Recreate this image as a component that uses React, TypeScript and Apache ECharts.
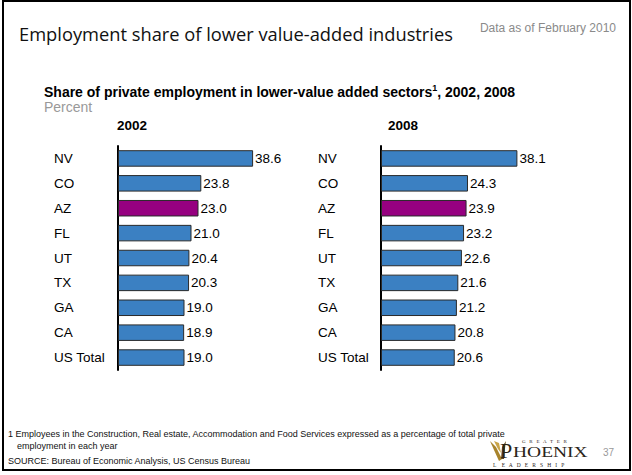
import React, { useEffect, useRef } from 'react';
import * as echarts from 'echarts';

const categories = ['NV', 'CO', 'AZ', 'FL', 'UT', 'TX', 'GA', 'CA', 'US Total'];
const values2002 = [38.6, 23.8, 23.0, 21.0, 20.4, 20.3, 19.0, 18.9, 19.0];
const values2008 = [38.1, 24.3, 23.9, 23.2, 22.6, 21.6, 21.2, 20.8, 20.6];
const years = ['2002', '2008'];
const highlightCategory = 'AZ';

const TITLE = 'Employment share of lower value-added industries';
const DATE_NOTE = 'Data as of February 2010';
const SUBTITLE_MAIN = 'Share of private employment in lower-value added sectors';
const SUBTITLE_SUP = '1';
const SUBTITLE_TAIL = ', 2002, 2008';
const UNIT = 'Percent';
const FOOTNOTE_1 =
  '1 Employees in the Construction, Real estate, Accommodation and Food Services expressed as a percentage of total private';
const FOOTNOTE_2 = 'employment in each year';
const SOURCE = 'SOURCE: Bureau of Economic Analysis, US Census Bureau';
const PAGE = '37';

const BLUE = '#3b80c2';
const PURPLE = '#960080';
const SANS = '"Liberation Sans", Arial, sans-serif';
const TITLE_FONT = '"Open Sans", sans-serif';
const SERIF = '"Liberation Serif", "DejaVu Serif", serif';

function makeData(values: number[]) {
  return values.map((v, i) => ({
    value: v,
    itemStyle: { color: categories[i] === highlightCategory ? PURPLE : BLUE },
  }));
}

export default function App() {
  const ref = useRef<HTMLDivElement>(null);

  useEffect(() => {
    if (!ref.current) return;
    const chart = echarts.init(ref.current, undefined, { renderer: 'svg' });

    const yAxisBase = (margin: number, gridIndex: number) => ({
      type: 'category' as const,
      gridIndex,
      data: categories,
      inverse: true,
      axisLine: { show: true, lineStyle: { color: '#000', width: 2 } },
      axisTick: { show: false },
      splitLine: { show: false },
      axisLabel: {
        align: 'left' as const,
        margin,
        fontSize: 13.5,
        color: '#000',
        fontFamily: SANS,
      },
    });

    const xAxisBase = (gridIndex: number) => ({
      type: 'value' as const,
      gridIndex,
      min: 0,
      max: 50,
      show: false,
    });

    const seriesBase = (values: number[], idx: number) => ({
      type: 'bar' as const,
      xAxisIndex: idx,
      yAxisIndex: idx,
      data: makeData(values),
      barWidth: 16.5,
      itemStyle: { borderColor: '#2a2a2a', borderWidth: 1 },
      label: {
        show: true,
        position: 'right' as const,
        distance: 2,
        fontSize: 13.5,
        color: '#000',
        fontFamily: SANS,
        formatter: (p: any) => Number(p.value).toFixed(1),
      },
    });

    const text = (x: number, y: number, t: string, font: string, fill: string, align = 'left') => ({
      type: 'text',
      x,
      y,
      style: { text: t, font, fill, textAlign: align, textVerticalAlign: 'middle' },
    });

    chart.setOption({
      animation: false,
      backgroundColor: '#fff',
      grid: [
        { left: 118, top: 146, width: 175, height: 224 },
        { left: 381, top: 146, width: 179, height: 224 },
      ],
      xAxis: [xAxisBase(0), xAxisBase(1)],
      yAxis: [yAxisBase(64, 0), yAxisBase(63, 1)],
      series: [seriesBase(values2002, 0), seriesBase(values2008, 1)],
      graphic: [
        {
          type: 'rect',
          shape: { x: 3, y: 1, width: 627, height: 469 },
          style: { fill: 'none', stroke: '#000', lineWidth: 2 },
          silent: true,
        },
        text(19, 33, TITLE, `18.3px ${TITLE_FONT}`, '#111'),
        text(616, 28, DATE_NOTE, `12px ${SANS}`, '#8a8a8a', 'right'),
        {
          type: 'text',
          x: 44,
          y: 92,
          style: {
            text: `{b|${SUBTITLE_MAIN}}{s|${SUBTITLE_SUP}}{b|${SUBTITLE_TAIL}}`,
            textVerticalAlign: 'middle',
            rich: {
              b: { fontSize: 14, fontWeight: 'bold', fontFamily: SANS, color: '#000', lineHeight: 17 },
              s: { fontSize: 9, fontWeight: 'bold', fontFamily: SANS, color: '#000', lineHeight: 9, verticalAlign: 'top' },
            },
          },
        },
        text(44, 107, UNIT, `14px ${SANS}`, '#999'),
        text(117, 125, years[0], `bold 13.5px ${SANS}`, '#000'),
        text(388, 125, years[1], `bold 13.5px ${SANS}`, '#000'),
        text(8, 434, FOOTNOTE_1, `9px ${SANS}`, '#111'),
        text(17, 446, FOOTNOTE_2, `9px ${SANS}`, '#111'),
        text(8, 461, SOURCE, `9px ${SANS}`, '#111'),
        // logo
        {
          type: 'group',
          children: [
            {
              type: 'polygon',
              shape: { points: [[490, 441], [496, 447], [502, 459], [499, 461], [494, 450]] },
              style: { fill: '#a8842c' },
            },
            {
              type: 'polygon',
              shape: { points: [[506, 441], [502, 447], [501, 459], [504, 459], [505, 448]] },
              style: { fill: '#6b4f1d' },
            },
            {
              type: 'polygon',
              shape: { points: [[494, 441], [499, 443], [501, 453], [498, 449]] },
              style: { fill: '#c9a447' },
            },
            {
              type: 'text',
              x: 500,
              y: 450,
              style: {
                text: 'P',
                font: `22px ${SERIF}`,
                fill: '#2a2418',
                textVerticalAlign: 'middle',
              },
            },
            {
              type: 'text',
              x: 513,
              y: 452,
              scaleX: 1.3,
              style: {
                text: 'HOENIX',
                font: `15px ${SERIF}`,
                fill: '#2a2418',
                textVerticalAlign: 'middle',
              },
            },
            {
              type: 'text',
              x: 522,
              y: 441,
              style: {
                text: 'G   R   E   A   T   E   R',
                font: `5px ${SERIF}`,
                fill: '#2a2418',
                textVerticalAlign: 'middle',
              },
            },
            {
              type: 'text',
              x: 493,
              y: 464.5,
              style: {
                text: 'L    E   A   D   E   R   S   H   I   P',
                font: `5.5px ${SERIF}`,
                fill: '#2a2418',
                textVerticalAlign: 'middle',
              },
            },
          ],
        },
        text(603, 452, PAGE, `10px ${SANS}`, '#999'),
      ],
    });

    return () => chart.dispose();
  }, []);

  return (
    <div
      ref={ref}
      style={{ position: 'fixed', left: 0, top: 0, width: 632, height: 475, background: '#fff' }}
    />
  );
}
